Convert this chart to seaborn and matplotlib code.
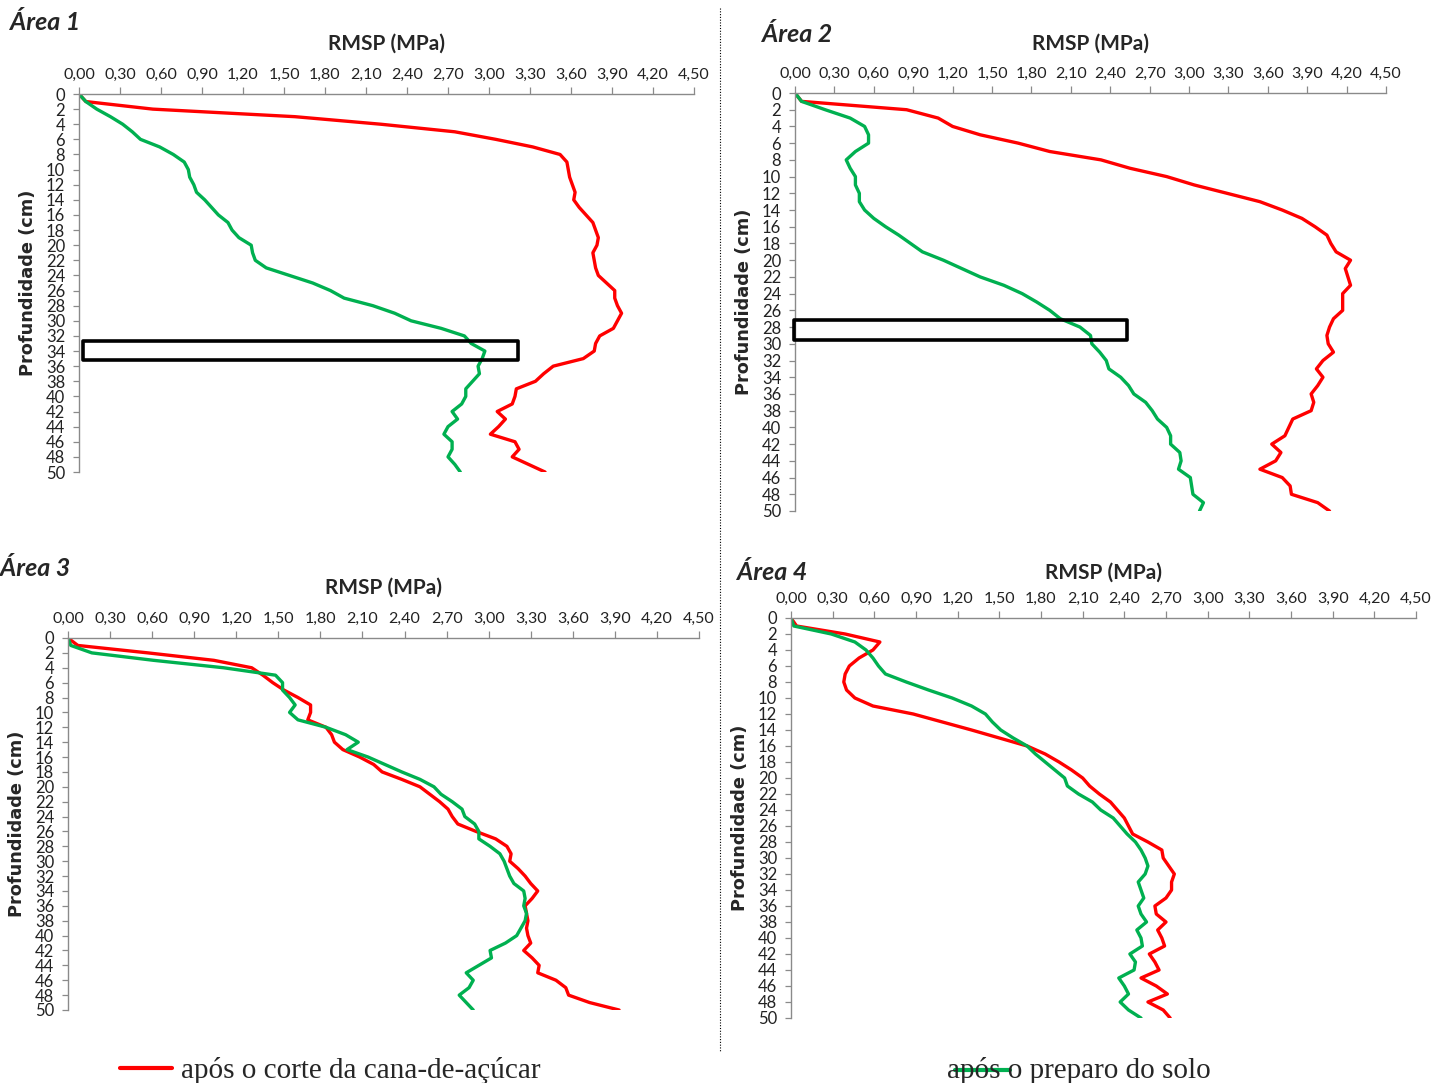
import matplotlib
matplotlib.use("Agg")
import matplotlib.pyplot as plt
import matplotlib.transforms as mtransforms
from matplotlib.lines import Line2D
from matplotlib.patches import Rectangle
import pandas as pd
import seaborn as sns

# profundidade (cm), one reading per cm
depth = list(range(0, 51))

area1_corte = [0.00, 0.05, 0.54, 1.58, 2.21, 2.75, 3.05, 3.32, 3.52, 3.57,
               3.58, 3.59, 3.61, 3.63, 3.62, 3.66, 3.71, 3.76, 3.78, 3.80,
               3.79, 3.76, 3.77, 3.78, 3.80, 3.86, 3.92, 3.92, 3.94, 3.97,
               3.94, 3.91, 3.81, 3.78, 3.77, 3.69, 3.47, 3.40, 3.34, 3.20,
               3.19, 3.17, 3.06, 3.12, 3.07, 3.01, 3.19, 3.22, 3.17, 3.29,
               3.41]
area1_preparo = [0.00, 0.05, 0.13, 0.23, 0.32, 0.39, 0.45, 0.59, 0.69, 0.77,
                 0.80, 0.81, 0.84, 0.86, 0.92, 0.97, 1.02, 1.09, 1.12, 1.17,
                 1.26, 1.27, 1.29, 1.37, 1.54, 1.71, 1.84, 1.94, 2.15, 2.31,
                 2.43, 2.65, 2.82, 2.87, 2.97, 2.95, 2.92, 2.93, 2.88, 2.83,
                 2.83, 2.80, 2.73, 2.77, 2.70, 2.67, 2.73, 2.73, 2.70, 2.75,
                 2.79]

area2_corte = [0.00, 0.05, 0.85, 1.09, 1.20, 1.41, 1.70, 1.94, 2.33, 2.55,
               2.83, 3.04, 3.29, 3.54, 3.71, 3.86, 3.96, 4.05, 4.08, 4.12,
               4.23, 4.19, 4.21, 4.23, 4.17, 4.17, 4.17, 4.10, 4.07, 4.05,
               4.06, 4.10, 4.02, 3.97, 4.02, 3.98, 3.93, 3.95, 3.93, 3.79,
               3.76, 3.73, 3.63, 3.70, 3.66, 3.54, 3.71, 3.77, 3.78, 3.98,
               4.07]
area2_preparo = [0.00, 0.05, 0.23, 0.42, 0.53, 0.56, 0.56, 0.46, 0.39, 0.42,
                 0.46, 0.46, 0.49, 0.49, 0.53, 0.60, 0.69, 0.79, 0.88, 0.97,
                 1.13, 1.27, 1.41, 1.59, 1.73, 1.84, 1.94, 2.02, 2.17, 2.25,
                 2.26, 2.32, 2.37, 2.39, 2.48, 2.54, 2.58, 2.67, 2.72, 2.76,
                 2.83, 2.86, 2.86, 2.93, 2.94, 2.92, 3.01, 3.02, 3.03, 3.11,
                 3.08]

area3_corte = [0.00, 0.07, 0.57, 1.04, 1.31, 1.39, 1.46, 1.54, 1.64, 1.73,
               1.73, 1.71, 1.84, 1.88, 1.90, 1.96, 2.08, 2.18, 2.24, 2.38,
               2.51, 2.58, 2.65, 2.71, 2.74, 2.78, 2.91, 3.05, 3.13, 3.16,
               3.15, 3.21, 3.26, 3.30, 3.35, 3.31, 3.26, 3.27, 3.28, 3.27,
               3.28, 3.30, 3.25, 3.31, 3.36, 3.35, 3.48, 3.55, 3.57, 3.72,
               3.93]
area3_preparo = [0.00, 0.02, 0.17, 0.61, 1.11, 1.48, 1.53, 1.53, 1.58, 1.62,
                 1.58, 1.64, 1.84, 1.98, 2.07, 1.99, 2.14, 2.26, 2.38, 2.51,
                 2.61, 2.66, 2.74, 2.81, 2.83, 2.90, 2.93, 2.93, 3.01, 3.08,
                 3.11, 3.13, 3.15, 3.18, 3.25, 3.26, 3.25, 3.27, 3.26, 3.23,
                 3.20, 3.12, 3.01, 3.02, 2.93, 2.84, 2.89, 2.86, 2.79, 2.84,
                 2.89]

area4_corte = [0.00, 0.04, 0.39, 0.64, 0.59, 0.49, 0.42, 0.39, 0.38, 0.40,
               0.46, 0.59, 0.88, 1.09, 1.30, 1.50, 1.70, 1.83, 1.93, 2.02,
               2.10, 2.15, 2.22, 2.30, 2.35, 2.40, 2.43, 2.46, 2.57, 2.67,
               2.68, 2.72, 2.76, 2.74, 2.74, 2.70, 2.62, 2.63, 2.70, 2.64,
               2.67, 2.69, 2.58, 2.62, 2.65, 2.52, 2.63, 2.71, 2.57, 2.68,
               2.73]
area4_preparo = [0.00, 0.02, 0.29, 0.46, 0.54, 0.59, 0.63, 0.68, 0.83, 0.99,
                 1.16, 1.30, 1.40, 1.45, 1.51, 1.60, 1.70, 1.76, 1.83, 1.90,
                 1.97, 1.99, 2.07, 2.17, 2.23, 2.32, 2.37, 2.42, 2.48, 2.52,
                 2.55, 2.57, 2.55, 2.50, 2.52, 2.54, 2.50, 2.52, 2.56, 2.49,
                 2.52, 2.53, 2.44, 2.48, 2.47, 2.36, 2.40, 2.43, 2.37, 2.43,
                 2.52]

x_ticks = [0.0, 0.3, 0.6, 0.9, 1.2, 1.5, 1.8, 2.1, 2.4, 2.7, 3.0, 3.3, 3.6, 3.9, 4.2, 4.5]
x_labels = ["0,00", "0,30", "0,60", "0,90", "1,20", "1,50", "1,80", "2,10",
            "2,40", "2,70", "3,00", "3,30", "3,60", "3,90", "4,20", "4,50"]
y_ticks = list(range(0, 51, 2))

lbl_corte = "após o corte da cana-de-açúcar"
lbl_preparo = "após o preparo do solo"
colors = {lbl_corte: "#FF0000", lbl_preparo: "#00B050"}

W, H = 1449, 1083
sns.set_theme(style="white")
plt.rcParams["font.family"] = ["Lato", "DejaVu Sans"]

fig = plt.figure(figsize=(W / 100, H / 100), dpi=100)


def px_box(x0, x1, y0, y1):
    # pixel box -> figure fraction [left, bottom, width, height]
    return [x0 / W, 1 - y1 / H, (x1 - x0) / W, (y1 - y0) / H]


panels = [
    ("Área 1", area1_corte, area1_preparo, px_box(79, 694, 94, 472), (10, 23),
     (0.03, 32.7, 3.18, 2.5)),
    ("Área 2", area2_corte, area2_preparo, px_box(795, 1386, 93, 511), (762, 35),
     (-0.01, 27.2, 2.54, 2.3)),
    ("Área 3", area3_corte, area3_preparo, px_box(68, 699, 638, 1010), (0, 568), None),
    ("Área 4", area4_corte, area4_preparo, px_box(791, 1416, 618, 1018), (737, 572), None),
]
xlabel_offset = [50, 49, 50, 45]

for i, (title, corte, preparo, box, tpos, rect) in enumerate(panels):
    ax = fig.add_axes(box)
    df = pd.DataFrame({
        "depth": depth * 2,
        "rmsp": corte + preparo,
        "cond": [lbl_corte] * len(depth) + [lbl_preparo] * len(depth),
    })
    sns.lineplot(data=df, x="rmsp", y="depth", hue="cond", palette=colors,
                 orient="y", estimator=None, legend=False, linewidth=2.4,
                 ax=ax)
    for ln in ax.lines:
        ln.set_solid_joinstyle("round")
        ln.set_solid_capstyle("round")
    ax.set_xlim(0, 4.5)
    ax.set_ylim(50, 0)
    ax.xaxis.tick_top()
    ax.set_xticks(x_ticks)
    ax.set_xticklabels(x_labels, fontsize=11.5, color="#222222")
    ax.set_yticks(y_ticks)
    ax.set_yticklabels([str(v) for v in y_ticks], fontsize=12, color="#222222")
    ax.tick_params(axis="x", which="both", top=True, bottom=False, length=5,
                   width=0.9, color="#8a8a8a", pad=4, direction="out")
    ax.tick_params(axis="y", left=True, length=4, width=0.9, color="#8a8a8a",
                   pad=6, direction="out")
    for side in ["right", "bottom"]:
        ax.spines[side].set_visible(False)
    for side in ["top", "left"]:
        ax.spines[side].set_color("#8a8a8a")
        ax.spines[side].set_linewidth(1.0)
    ax.set_xlabel("")
    ax.set_ylabel("")

    tr = mtransforms.offset_copy(ax.transAxes, fig=fig, x=0, y=xlabel_offset[i], units="dots")
    ax.text(0.5, 1.0, "RMSP (MPa)", transform=tr, ha="center", va="center",
            fontsize=15, fontweight="bold")
    tr_y = mtransforms.offset_copy(ax.transAxes, fig=fig, x=-51, y=0, units="dots")
    ax.text(0.0, 0.5, "Profundidade (cm)", transform=tr_y, ha="center", va="center",
            rotation=90, fontsize=12.8, fontweight="bold", family="DejaVu Sans")

    fig.text(tpos[0] / W, 1 - tpos[1] / H, title, ha="left", va="center",
             fontsize=18, fontweight="bold", style="italic")

    if rect is not None:
        ax.add_patch(Rectangle((rect[0], rect[1]), rect[2], rect[3], fill=False,
                               edgecolor="black", linewidth=2.6, clip_on=False,
                               joinstyle="round", zorder=5))

# dotted separator
fig.add_artist(Line2D([720 / W, 720 / W], [1 - 8 / H, 1 - 1052 / H],
                      color="black", linestyle=(0, (1, 1.5)), linewidth=0.8))

# legend at the bottom
fig.text(181 / W, 1 - 1070 / H, lbl_corte, ha="left", va="center",
         fontsize=21, family="Liberation Serif")
fig.add_artist(Line2D([120 / W, 172 / W], [1 - 1068 / H] * 2,
                      color=colors[lbl_corte], linewidth=3))
fig.text(947 / W, 1 - 1070 / H, lbl_preparo, ha="left", va="center",
         fontsize=21, family="Liberation Serif")
fig.add_artist(Line2D([955 / W, 1010 / W], [1 - 1070 / H] * 2,
                      color=colors[lbl_preparo], linewidth=3))

fig.savefig("out.png", dpi=100)
